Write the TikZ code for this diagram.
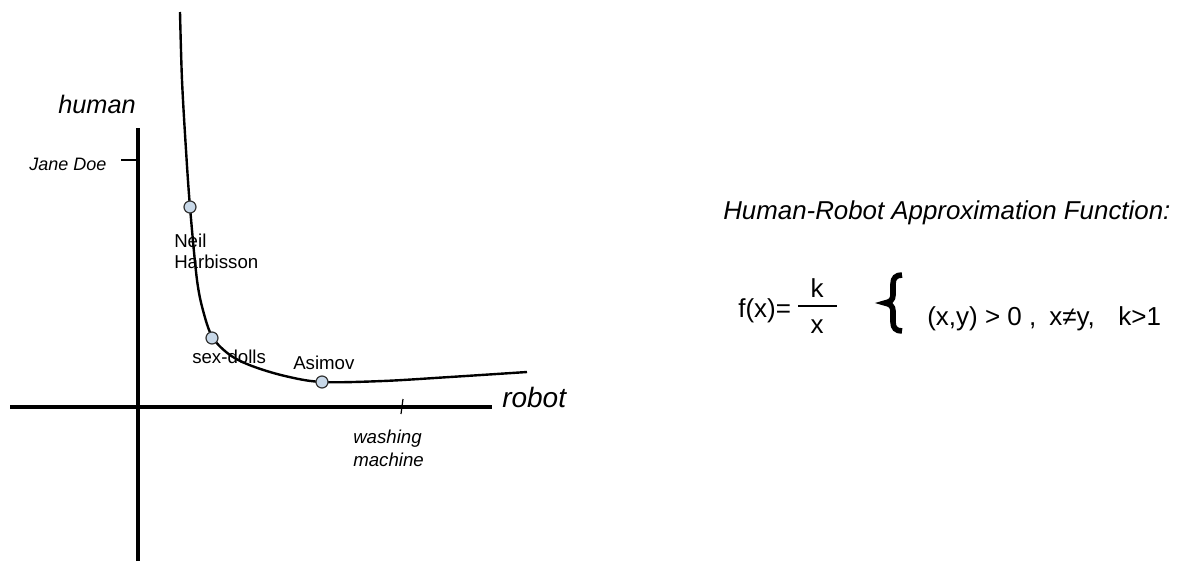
\documentclass[tikz,border=0pt]{standalone}
\usepackage{fontspec}
\setmainfont{Liberation Sans}
\definecolor{dotfill}{RGB}{200,216,232}
\begin{document}
\begin{tikzpicture}[x=0.75pt,y=-0.75pt,
  axis/.style={line width=3.6pt},
  tickmark/.style={line width=0.9pt},
  curve/.style={line width=1.8pt},
  dot/.style={circle,draw=black!80,fill=dotfill,line width=0.9pt,minimum size=9pt,inner sep=0pt},
  lbl/.style={inner sep=0pt,anchor=base west,font=\fontsize{14}{16}\selectfont},
  ilbl/.style={lbl,font=\fontsize{14}{16}\selectfont\itshape},
  big/.style={inner sep=0pt,anchor=base west,font=\fontsize{19}{22}\selectfont\itshape},
  fml/.style={inner sep=0pt,anchor=base west,font=\fontsize{19.5}{22}\selectfont}]
\useasboundingbox (0,0) rectangle (1179,561);
% axes
\coordinate (yb) at (138,561);
\coordinate (yt) at (138,128);
\coordinate (xl) at (10,407);
\coordinate (xr) at (492,407);
\draw[axis] (yb) -- (yt);
\draw[axis] (xl) -- (xr);
% ticks
\coordinate (jt1) at (121,160);
\coordinate (jt2) at (138,160);
\draw[tickmark] (jt1) -- (jt2);
\coordinate (wt1) at (403,399);
\coordinate (wt2) at (401,414);
\draw[tickmark] (wt1) -- (wt2);
% curve
\draw[curve] plot[smooth,tension=0.55] coordinates {(180,12) (182,80) (186,150) (190,207) (197,280) (204,314) (213,338) (230,355) (252,366) (285,376) (322,382) (383,381) (450,377) (527,372)};
% dots
\node[dot] (neil) at (190,207) {};
\node[dot] (sex) at (212,338) {};
\node[dot] (asi) at (322,382) {};
% labels
\node[big,font=\fontsize{19}{22}\selectfont\itshape] (human) at (58,113) {human};
\node[big,font=\fontsize{21}{24}\selectfont\itshape] (robot) at (502,407) {robot};
\node[ilbl,font=\fontsize{13.5}{16}\selectfont\itshape] (jane) at (29,170) {Jane Doe};
\node[lbl] (n1) at (174,247) {Neil};
\node[lbl] (n2) at (174,268) {Harbisson};
\node[lbl] (sd) at (192,363) {sex-dolls};
\node[lbl] (as) at (293,369) {Asimov};
\node[ilbl] (w1) at (353,443) {washing};
\node[ilbl] (w2) at (353,466) {machine};
% right side
\node[big,font=\fontsize{19.4}{22}\selectfont\itshape] (title) at (723,219) {Human-Robot Approximation Function:};
\node[fml] (fx) at (738,317) {f(x)=};
\node[fml,anchor=base] (k) at (817,297) {k};
\node[fml,anchor=base] (xx) at (817,333) {x};
\coordinate (b1) at (798,306);
\coordinate (b2) at (837,306);
\draw[line width=0.8pt] (b1) -- (b2);
% brace
\coordinate (brt) at (902,275);
\coordinate (brm) at (885,303);
\coordinate (brb) at (902,331);
\draw[line width=4.2pt]
  (brt) .. controls (896,275) and (893,278) .. (893,284)
  -- (893,295) .. controls (893,300) and (890,302) .. (brm)
  .. controls (890,304) and (893,306) .. (893,311)
  -- (893,322) .. controls (893,328) and (896,331) .. (brb);
\node[fml] (cond) at (927,325) {(x,y) > 0 ,\hspace{0.5em}x≠y,\hspace{0.9em}k>1};
\end{tikzpicture}
\end{document}
